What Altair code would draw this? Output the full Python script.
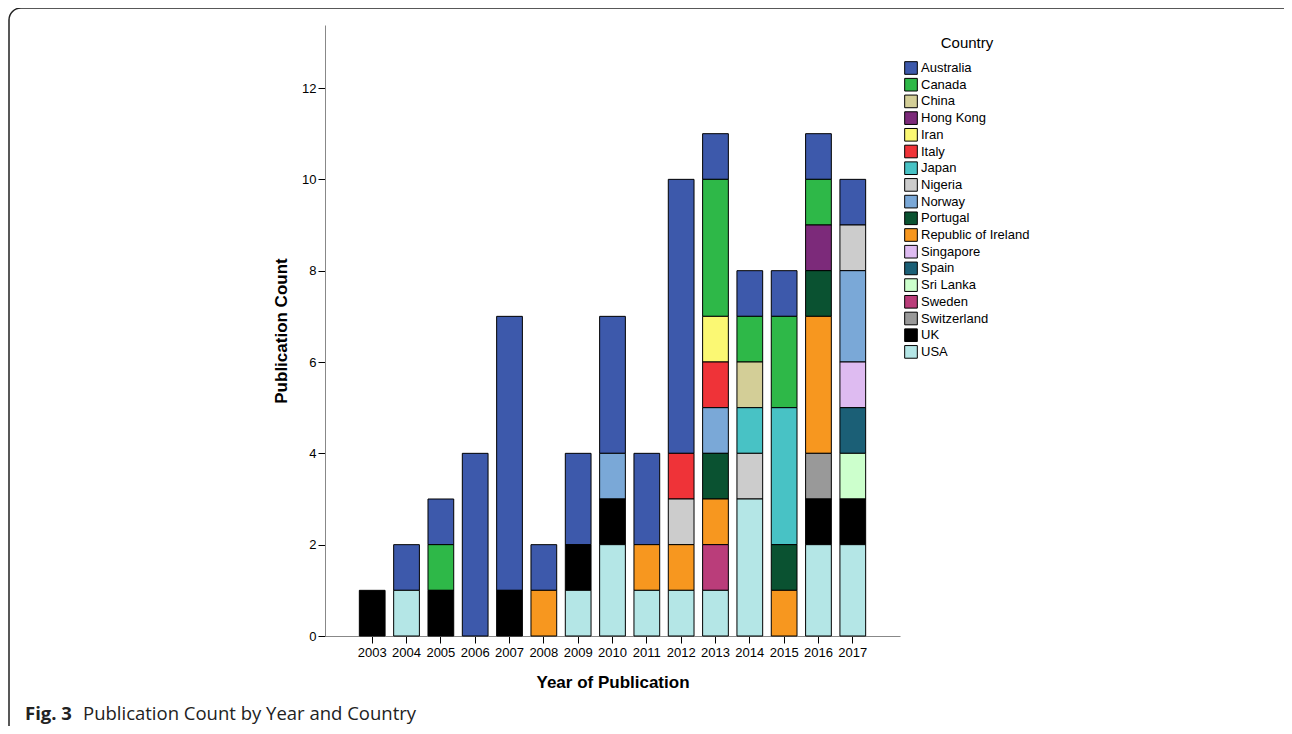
import altair as alt
import pandas as pd

years = [str(y) for y in range(2003, 2018)]

countries = ["Australia", "Canada", "China", "Hong Kong", "Iran", "Italy", "Japan",
             "Nigeria", "Norway", "Portugal", "Republic of Ireland", "Singapore",
             "Spain", "Sri Lanka", "Sweden", "Switzerland", "UK", "USA"]

colors = ["#3D59AB", "#2EB848", "#D3CE97", "#7C2A7A", "#FBF873", "#EF3338", "#48C2C5",
          "#CCCCCC", "#7AA8D7", "#0A5231", "#F7971F", "#DEBBF1", "#1B5F76", "#CCFFCC",
          "#BA3D7A", "#999999", "#000000", "#B4E6E6"]

#            03 04 05 06 07 08 09 10 11 12 13 14 15 16 17
australia = [0, 1, 1, 4, 6, 1, 2, 3, 2, 6, 1, 1, 1, 1, 1]
canada    = [0, 0, 1, 0, 0, 0, 0, 0, 0, 0, 3, 1, 2, 1, 0]
china     = [0, 0, 0, 0, 0, 0, 0, 0, 0, 0, 0, 1, 0, 0, 0]
hongkong  = [0, 0, 0, 0, 0, 0, 0, 0, 0, 0, 0, 0, 0, 1, 0]
iran      = [0, 0, 0, 0, 0, 0, 0, 0, 0, 0, 1, 0, 0, 0, 0]
italy     = [0, 0, 0, 0, 0, 0, 0, 0, 0, 1, 1, 0, 0, 0, 0]
japan     = [0, 0, 0, 0, 0, 0, 0, 0, 0, 0, 0, 1, 3, 0, 0]
nigeria   = [0, 0, 0, 0, 0, 0, 0, 0, 0, 1, 0, 1, 0, 0, 1]
norway    = [0, 0, 0, 0, 0, 0, 0, 1, 0, 0, 1, 0, 0, 0, 2]
portugal  = [0, 0, 0, 0, 0, 0, 0, 0, 0, 0, 1, 0, 1, 1, 0]
ireland   = [0, 0, 0, 0, 0, 1, 0, 0, 1, 1, 1, 0, 1, 3, 0]
singapore = [0, 0, 0, 0, 0, 0, 0, 0, 0, 0, 0, 0, 0, 0, 1]
spain     = [0, 0, 0, 0, 0, 0, 0, 0, 0, 0, 0, 0, 0, 0, 1]
srilanka  = [0, 0, 0, 0, 0, 0, 0, 0, 0, 0, 0, 0, 0, 0, 1]
sweden    = [0, 0, 0, 0, 0, 0, 0, 0, 0, 0, 1, 0, 0, 0, 0]
switzerl  = [0, 0, 0, 0, 0, 0, 0, 0, 0, 0, 0, 0, 0, 1, 0]
uk        = [1, 0, 1, 0, 1, 0, 1, 1, 0, 0, 0, 0, 0, 1, 1]
usa       = [0, 1, 0, 0, 0, 0, 1, 2, 1, 1, 1, 3, 0, 2, 2]

series = [australia, canada, china, hongkong, iran, italy, japan, nigeria, norway,
          portugal, ireland, singapore, spain, srilanka, sweden, switzerl, uk, usa]

y_ticks = [0, 2, 4, 6, 8, 10, 12]

rows = []
for ci, (c, vals) in enumerate(zip(countries, series)):
    for y, v in zip(years, vals):
        if v > 0:
            rows.append({"Year": y, "Country": c, "Count": v,
                         "ord": len(countries) - 1 - ci})
df = pd.DataFrame(rows)

FONT = "Arial, Liberation Sans, sans-serif"

bars = alt.Chart(df).mark_bar(stroke="black", strokeWidth=1).encode(
    x=alt.X("Year:N", sort=years,
            scale=alt.Scale(paddingInner=0.25, paddingOuter=1.0),
            axis=alt.Axis(title="Year of Publication", labelAngle=0, labelFontSize=13,
                          labelFont=FONT, titleFont=FONT, titleFontSize=17,
                          titleFontWeight="bold", titlePadding=15, tickSize=7,
                          tickColor="black", domainColor="#888888", labelPadding=3,
                          labelColor="black", titleColor="black")),
    y=alt.Y("sum(Count):Q", stack="zero",
            scale=alt.Scale(domain=[0, 13.38], nice=False),
            axis=alt.Axis(title="Publication Count", values=y_ticks, grid=False,
                          labelFontSize=13, labelFont=FONT, titleFont=FONT,
                          titleFontSize=17, titleFontWeight="bold", titlePadding=11,
                          tickSize=7, tickColor="black", domainColor="#888888",
                          labelPadding=2, labelColor="black", titleColor="black")),
    color=alt.Color("Country:N", sort=countries,
                    scale=alt.Scale(domain=countries, range=colors),
                    legend=alt.Legend(title="Country", orient="none", legendX=579,
                                      legendY=11, symbolType="square", symbolSize=160,
                                      symbolStrokeColor="black", symbolStrokeWidth=1,
                                      symbolOpacity=1, labelFont=FONT, labelFontSize=13,
                                      titleFont=FONT, titleFontSize=15,
                                      titleFontWeight="normal", titleAnchor="middle",
                                      titlePadding=10, rowPadding=-1.3, labelOffset=3,
                                      labelColor="black", titleColor="black")),
    order=alt.Order("ord:Q", sort="ascending"),
)

cap1 = alt.Chart(pd.DataFrame({"t": ["Fig. 3"]})).mark_text(
    align="left", baseline="middle", font="Open Sans", fontSize=18.5,
    fontWeight="bold", color="#222222"
).encode(text="t:N", x=alt.value(-300), y=alt.value(689))

cap2 = alt.Chart(pd.DataFrame({"t": ["Publication Count by Year and Country"]})).mark_text(
    align="left", baseline="middle", font="Open Sans", fontSize=18.5,
    color="#222222"
).encode(text="t:N", x=alt.value(-242), y=alt.value(689))

border = alt.Chart(pd.DataFrame({"a": [0]})).mark_rect(
    fill="transparent", stroke="#222222", strokeWidth=1.5, cornerRadius=12
).encode(x=alt.value(-316), x2=alt.value(980), y=alt.value(-17), y2=alt.value(725))

chart = alt.layer(border, bars, cap1, cap2).properties(
    width=575, height=611,
    autosize=alt.AutoSizeParams(type="none"),
    padding={"left": 317, "top": 17, "right": 384, "bottom": 90},
).configure_view(strokeWidth=0)

chart.save("out.html", embed_options={"renderer": "svg", "actions": False})
